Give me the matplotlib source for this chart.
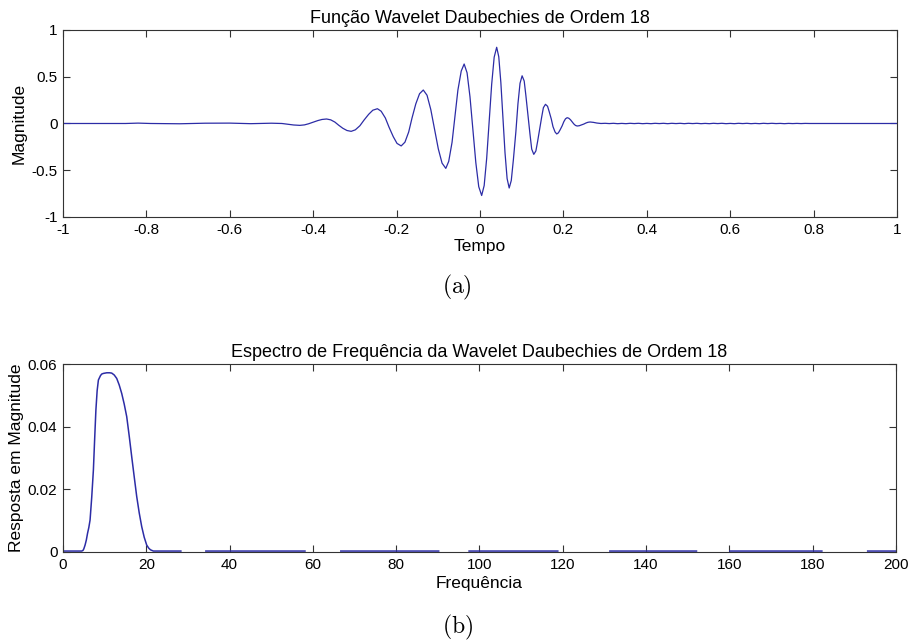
import numpy as np
import matplotlib
matplotlib.use("Agg")
import matplotlib.pyplot as plt

plt.rcParams["font.family"] = "Liberation Sans"
plt.rcParams["mathtext.fontset"] = "cm"

# ============================================================
#                       DATA
# ============================================================

# wavelet function: time and magnitude
tempo = [
    -1.0, -0.85, -0.82, -0.79, -0.72, -0.66, -0.60, -0.55, -0.50, -0.475, -0.46, -0.447,
    -0.432, -0.421, -0.411, -0.400, -0.389, -0.379,
    -0.368, -0.358, -0.348, -0.339, -0.329, -0.319,
    -0.309, -0.299, -0.288, -0.278, -0.267, -0.257,
    -0.246, -0.237, -0.227, -0.218, -0.208, -0.199,
    -0.189, -0.180, -0.171, -0.163, -0.154, -0.145,
    -0.136, -0.127, -0.118, -0.109, -0.100, -0.091,
    -0.082, -0.075, -0.067, -0.060, -0.053, -0.045,
    -0.038, -0.031, -0.024, -0.017, -0.010, -0.003,
    0.004, 0.010, 0.016, 0.022, 0.028, 0.034,
    0.040, 0.045, 0.050, 0.055, 0.060, 0.065,
    0.070, 0.075, 0.080, 0.086, 0.091, 0.096,
    0.101, 0.106, 0.110, 0.115, 0.120, 0.124,
    0.129, 0.134, 0.138, 0.143, 0.148, 0.152,
    0.157, 0.162, 0.166, 0.171, 0.175, 0.180,
    0.184, 0.188, 0.192, 0.197, 0.201, 0.205,
    0.209, 0.213, 0.217, 0.221, 0.225, 0.229,
    0.233, 0.238, 0.243, 0.249, 0.254, 0.259,
    0.264, 0.272, 0.280, 0.290,
    0.30, 0.31, 0.32, 0.33, 0.34, 0.35, 0.36, 0.37, 0.38, 0.39,
    0.40, 0.41, 0.42, 0.43, 0.44, 0.45, 0.46, 0.47, 0.48, 0.49,
    0.50, 0.51, 0.52, 0.53, 0.54, 0.55, 0.56, 0.57, 0.58, 0.59,
    0.60, 0.61, 0.62, 0.63, 0.64, 0.65, 0.66, 0.67, 0.68, 0.69,
    0.70, 0.71, 0.72, 0.73, 0.74, 0.75, 0.76, 0.77, 0.78, 0.79,
    1.0,
]
magnitude = [
    0.0, 0.0, 0.004, 0.0, -0.003, 0.003, 0.004, -0.002, 0.003, 0.0, -0.008, -0.016,
    -0.020, -0.015, -0.003, 0.014, 0.031, 0.043,
    0.048, 0.039, 0.015, -0.018, -0.051, -0.075,
    -0.084, -0.068, -0.024, 0.037, 0.098, 0.142,
    0.158, 0.131, 0.059, -0.041, -0.141, -0.213,
    -0.240, -0.200, -0.091, 0.059, 0.209, 0.318,
    0.358, 0.302, 0.149, -0.061, -0.271, -0.424,
    -0.480, -0.405, -0.201, 0.078, 0.357, 0.561,
    0.636, 0.542, 0.285, -0.067, -0.419, -0.676,
    -0.770, -0.664, -0.374, 0.023, 0.419, 0.709,
    0.815, 0.714, 0.439, 0.063, -0.314, -0.589,
    -0.690, -0.610, -0.390, -0.090, 0.210, 0.430,
    0.510, 0.454, 0.300, 0.090, -0.120, -0.274,
    -0.330, -0.294, -0.196, -0.063, 0.071, 0.169,
    0.205, 0.184, 0.126, 0.047, -0.033, -0.091,
    -0.112, -0.100, -0.069, -0.025, 0.019, 0.050,
    0.062, 0.056, 0.040, 0.018, -0.005, -0.021,
    -0.027, -0.024, -0.016, -0.006, 0.005, 0.013,
    0.016, 0.012, 0.005, 0.0,
    0.002, -0.001, 0.002, -0.002, 0.001, -0.002, 0.002, -0.001, 0.002, -0.002,
    0.001, -0.002, 0.002, -0.001, 0.002, -0.002, 0.002, -0.001, 0.002, -0.002,
    0.002, -0.001, 0.002, -0.002, 0.001, -0.002, 0.002, -0.001, 0.002, -0.002,
    0.001, -0.002, 0.002, -0.001, 0.002, -0.002, 0.001, -0.002, 0.002, -0.001,
    0.002, -0.001, 0.001, -0.002, 0.001, -0.001, 0.001, -0.001, 0.001, 0.0,
    0.0,
]

# frequency spectrum (NaN = where the trace is not visible on the baseline)
frequencia = [
    0, 4.5, 4.8, 5.0, 5.3, 5.6, 5.9, 6.2, 6.5, 6.9, 7.3, 7.6, 7.9, 8.2, 8.5, 9.0, 9.3,
    9.7, 10.5, 11.2, 11.7, 12.3, 12.9, 13.5, 14.1, 14.7, 15.3, 15.9, 16.5, 17.1, 17.7,
    18.3, 18.9, 19.5, 20.1, 20.6, 21.0, 21.7, 28.3,
    31.0, 34.3, 58.1,
    62.0, 66.7, 90.2,
    94.0, 97.5, 118.8,
    125.0, 131.3, 152.1,
    156.0, 160.1, 182.2,
    188.0, 193.2, 200.0,
]
resposta = [
    0.0003, 0.0003, 0.0005, 0.0010, 0.0022, 0.0038, 0.0060, 0.0078, 0.0102, 0.0175,
    0.0262, 0.0360, 0.0453, 0.0515, 0.0549, 0.0563, 0.0568,
    0.0570, 0.0572, 0.0572, 0.0571, 0.0565, 0.0554, 0.0533, 0.0506, 0.0472, 0.0432,
    0.0370, 0.0304, 0.0240, 0.0177,
    0.0125, 0.0081, 0.0047, 0.0022, 0.0012, 0.0007, 0.0003, 0.0003,
    np.nan, 0.0003, 0.0003,
    np.nan, 0.0003, 0.0003,
    np.nan, 0.0003, 0.0003,
    np.nan, 0.0003, 0.0003,
    np.nan, 0.0003, 0.0003,
    np.nan, 0.0003, 0.0003,
]

x_ticks_top = [-1, -0.8, -0.6, -0.4, -0.2, 0, 0.2, 0.4, 0.6, 0.8, 1]
x_labels_top = ["-1", "-0.8", "-0.6", "-0.4", "-0.2", "0", "0.2", "0.4", "0.6", "0.8", "1"]
y_ticks_top = [-1, -0.5, 0, 0.5, 1]
y_labels_top = ["-1", "-0.5", "0", "0.5", "1"]

x_ticks_bot = [0, 20, 40, 60, 80, 100, 120, 140, 160, 180, 200]
y_ticks_bot = [0, 0.02, 0.04, 0.06]
y_labels_bot = ["0", "0.02", "0.04", "0.06"]

# ============================================================
#                       PLOTTING
# ============================================================

line_color = "#2c2ca6"
axis_color = "#333333"

fig = plt.figure(figsize=(9.09, 6.42), dpi=100)
ax1 = fig.add_axes([0.0693, 0.662, 0.9175, 0.2913])
ax2 = fig.add_axes([0.0693, 0.1402, 0.9164, 0.2928])


def matlab_style(ax):
    ax.tick_params(direction="in", top=True, right=True, length=5,
                   width=0.8, color=axis_color, labelsize=11, pad=4)
    for s in ax.spines.values():
        s.set_color(axis_color)
        s.set_linewidth(0.8)


# Wavelet function
ax1.plot(tempo, magnitude, color=line_color, linewidth=0.9)
ax1.set_xlim(-1, 1)
ax1.set_ylim(-1, 1)
ax1.set_xticks(x_ticks_top)
ax1.set_xticklabels(x_labels_top)
ax1.set_yticks(y_ticks_top)
ax1.set_yticklabels(y_labels_top)
matlab_style(ax1)
ax1.set_title("Função Wavelet Daubechies de Ordem 18", fontsize=13, pad=5)
ax1.set_xlabel("Tempo", fontsize=12.5, va="center")
ax1.xaxis.set_label_coords(0.5, -0.159)
ax1.set_ylabel("Magnitude", fontsize=12.5, va="center")
ax1.yaxis.set_label_coords(-0.053, 0.5)

# Frequency spectrum
ax2.plot(frequencia, resposta, color=line_color, linewidth=1.1)
ax2.set_xlim(0, 200)
ax2.set_ylim(0, 0.06)
ax2.set_xticks(x_ticks_bot)
ax2.set_yticks(y_ticks_bot)
ax2.set_yticklabels(y_labels_bot)
matlab_style(ax2)
ax2.set_title("Espectro de Frequência da Wavelet Daubechies de Ordem 18", fontsize=13, pad=5)
ax2.set_xlabel("Frequência", fontsize=12.5, va="center")
ax2.xaxis.set_label_coords(0.5, -0.166)
ax2.set_ylabel("Resposta em Magnitude", fontsize=12.5, va="center")
ax2.yaxis.set_label_coords(-0.056, 0.5)

# captions
fig.text(0.503, 0.553, r"$(\mathrm{a})$", fontsize=17, ha="center", va="center")
fig.text(0.503, 0.022, r"$(\mathrm{b})$", fontsize=17, ha="center", va="center")

plt.savefig("out.png", dpi=100)
plt.close()
